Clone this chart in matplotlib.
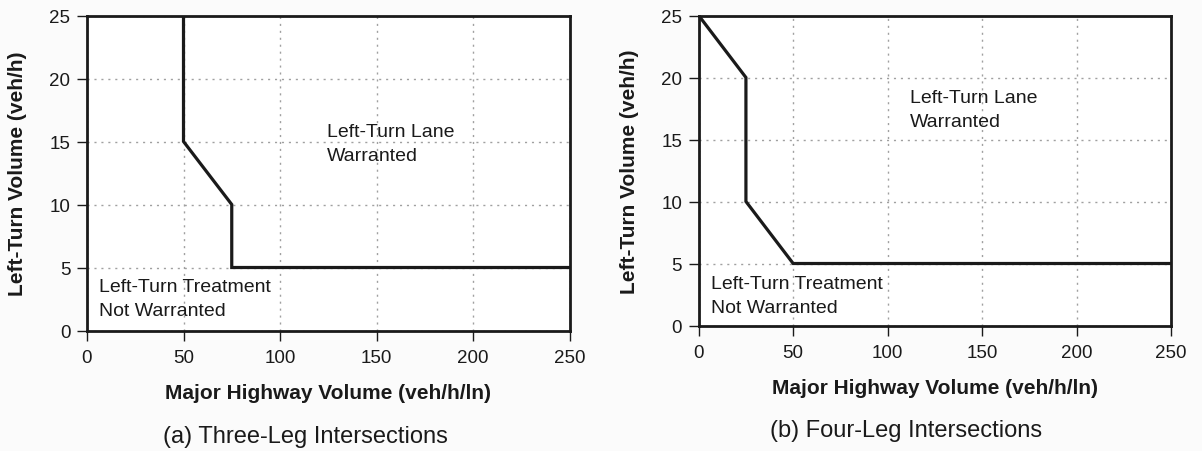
import matplotlib
matplotlib.use("Agg")
import matplotlib.pyplot as plt

plt.rcParams['font.family'] = ['Liberation Sans', 'DejaVu Sans']

# Data
x_ticks = [0, 50, 100, 150, 200, 250]
y_ticks = [0, 5, 10, 15, 20, 25]
three_leg_x = [50, 50, 75, 75, 250]
three_leg_y = [25, 15, 10, 5, 5]
four_leg_x = [0, 25, 25, 50, 250]
four_leg_y = [25, 20, 10, 5, 5]
xlabel = "Major Highway Volume (veh/h/ln)"
ylabel = "Left-Turn Volume (veh/h)"
captions = ["(a) Three-Leg Intersections", "(b) Four-Leg Intersections"]
lane_text = "Left-Turn Lane\nWarranted"
treat_text = "Left-Turn Treatment\nNot Warranted"

W, H = 1202, 452
fig = plt.figure(figsize=(W / 100, H / 100), dpi=100)
fig.patch.set_facecolor('#fbfbfb')


def px_axes(x0, x1, y0, y1):
    return fig.add_axes([x0 / W, 1 - y1 / H, (x1 - x0) / W, (y1 - y0) / H])


ax1 = px_axes(87, 569.5, 16.5, 331.5)
ax2 = px_axes(698.7, 1171, 16.5, 326.5)

configs = [
    (ax1, three_leg_x, three_leg_y, captions[0], (124.4, 16.45), (6.0, 4.2), (305, 437)),
    (ax2, four_leg_x, four_leg_y, captions[1], (111.8, 19.05), (6.4, 4.1), (906, 431)),
]

for ax, xs, ys, cap, lane_pos, treat_pos, cap_px in configs:
    ax.set_facecolor('white')
    ax.plot(xs, ys, color='#1a1a1a', lw=2.3, solid_joinstyle='miter', zorder=3)
    ax.set_xlim(0, 250)
    ax.set_ylim(0, 25)
    ax.set_xticks(x_ticks)
    ax.set_yticks(y_ticks)
    ax.grid(True, linestyle=(0, (1.5, 3.5)), color='#a0a0a0', lw=1.0)
    for s in ax.spines.values():
        s.set_linewidth(2.0)
        s.set_color('#1a1a1a')
    ax.tick_params(axis='both', direction='out', length=7, width=1.0,
                   labelsize=13.5, colors='#1a1a1a')
    ax.tick_params(axis='x', pad=6.5)
    ax.tick_params(axis='y', pad=5)
    bb = ax.get_position()
    hpx = bb.height * H
    wpx = bb.width * W
    ax.set_xlabel(xlabel, fontsize=15, fontweight='bold', color='#1a1a1a')
    ax.xaxis.set_label_coords(0.5, -62 / hpx)
    ax.xaxis.label.set_va('center')
    ax.set_ylabel(ylabel, fontsize=15, fontweight='bold', color='#1a1a1a')
    ax.yaxis.set_label_coords(-69 / wpx, 0.5)
    ax.yaxis.label.set_va('center')
    ax.text(lane_pos[0], lane_pos[1], lane_text, fontsize=14, va='top', ha='left',
            linespacing=1.55, color='#1a1a1a')
    ax.text(treat_pos[0], treat_pos[1], treat_text, fontsize=14, va='top', ha='left',
            linespacing=1.55, color='#1a1a1a')
    fig.text(cap_px[0] / W, 1 - cap_px[1] / H, cap, fontsize=17, ha='center',
             va='center', color='#1a1a1a')

fig.savefig("out.png", dpi=100, facecolor=fig.get_facecolor())
